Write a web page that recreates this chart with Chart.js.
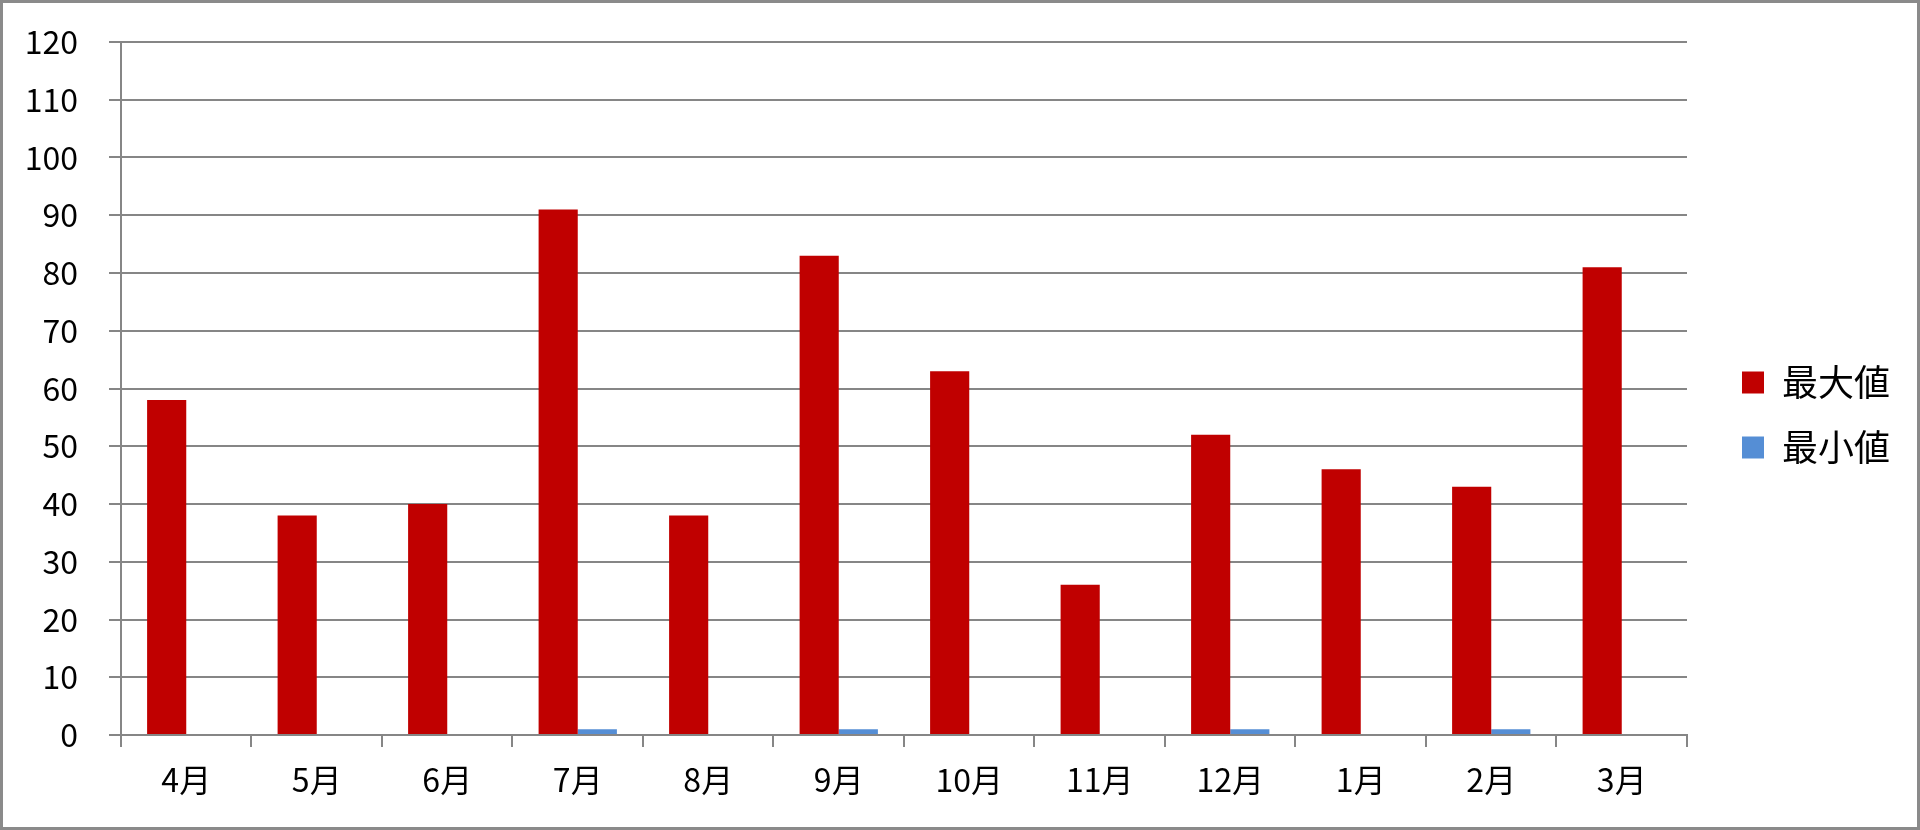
<!DOCTYPE html>
<html>
<head>
<meta charset="utf-8">
<script src="https://cdn.jsdelivr.net/npm/chart.js@4/dist/chart.umd.min.js"></script>
<style>
    body { margin: 0; background: white; }
    #wrap { width: 1920px; height: 830px; box-sizing: border-box; border: 3px solid #8a8a8a; background: white; }
    canvas { display: block; }
</style>
</head>
<body>
<div id="wrap"><canvas id="grafico" width="1914" height="824"></canvas></div>
<script>
var months = ['4月', '5月', '6月', '7月', '8月', '9月', '10月', '11月', '12月', '1月', '2月', '3月'];
var maxValues = [58, 38, 40, 91, 38, 83, 63, 26, 52, 46, 43, 81];
var minValues = [0, 0, 0, 1, 0, 1, 0, 0, 1, 0, 1, 0];
var seriesNames = ['最大値', '最小値'];
var yMin = 0, yMax = 120, yStep = 10;

var fontFam = '"Noto Sans CJK JP", "Noto Sans", sans-serif';
var gridGray = '#868686';

var canvas = document.getElementById('grafico');
var data = {
    labels: months,
    datasets: [{
        label: seriesNames[0],
        data: maxValues,
        backgroundColor: '#C00000',
        borderWidth: 0
    }, {
        label: seriesNames[1],
        data: minValues,
        backgroundColor: '#558ED5',
        borderWidth: 0
    }]
};

var graph = new Chart(canvas, {
    type: 'bar',
    data: data,
    options: {
        responsive: false,
        animation: false,
        devicePixelRatio: 1,
        categoryPercentage: 0.6,
        barPercentage: 1.0,
        layout: {
            padding: { top: 0, left: 0, bottom: 0, right: 17 }
        },
        plugins: {
            tooltip: { enabled: false },
            legend: {
                position: 'right',
                labels: {
                    boxWidth: 22,
                    boxHeight: 22,
                    padding: 29,
                    color: '#000',
                    font: { family: fontFam, size: 36 }
                }
            }
        },
        scales: {
            x: {
                grid: {
                    display: true,
                    drawOnChartArea: false,
                    drawTicks: true,
                    tickLength: 12,
                    offset: true,
                    color: gridGray,
                    lineWidth: 2
                },
                border: { color: gridGray, width: 2 },
                ticks: {
                    color: '#000',
                    padding: 14,
                    font: { family: fontFam, size: 32 }
                },
                afterFit: function(scale) { scale.height = 92; }
            },
            y: {
                min: yMin,
                max: yMax,
                grid: {
                    color: gridGray,
                    lineWidth: 2,
                    tickLength: 12
                },
                border: { color: gridGray, width: 2 },
                ticks: {
                    stepSize: yStep,
                    color: '#000',
                    padding: 31,
                    font: { family: fontFam, size: 32 }
                },
                afterFit: function(scale) {
                    scale.width = 118;
                    scale.paddingTop = 39;
                    scale.paddingBottom = 0;
                }
            },
            // empty gap between plot and legend
            gap: {
                type: 'linear',
                position: 'right',
                grid: { display: false },
                border: { display: false },
                ticks: { display: false },
                afterFit: function(scale) { scale.width = 26; }
            }
        }
    }
});
</script>
</body>
</html>
